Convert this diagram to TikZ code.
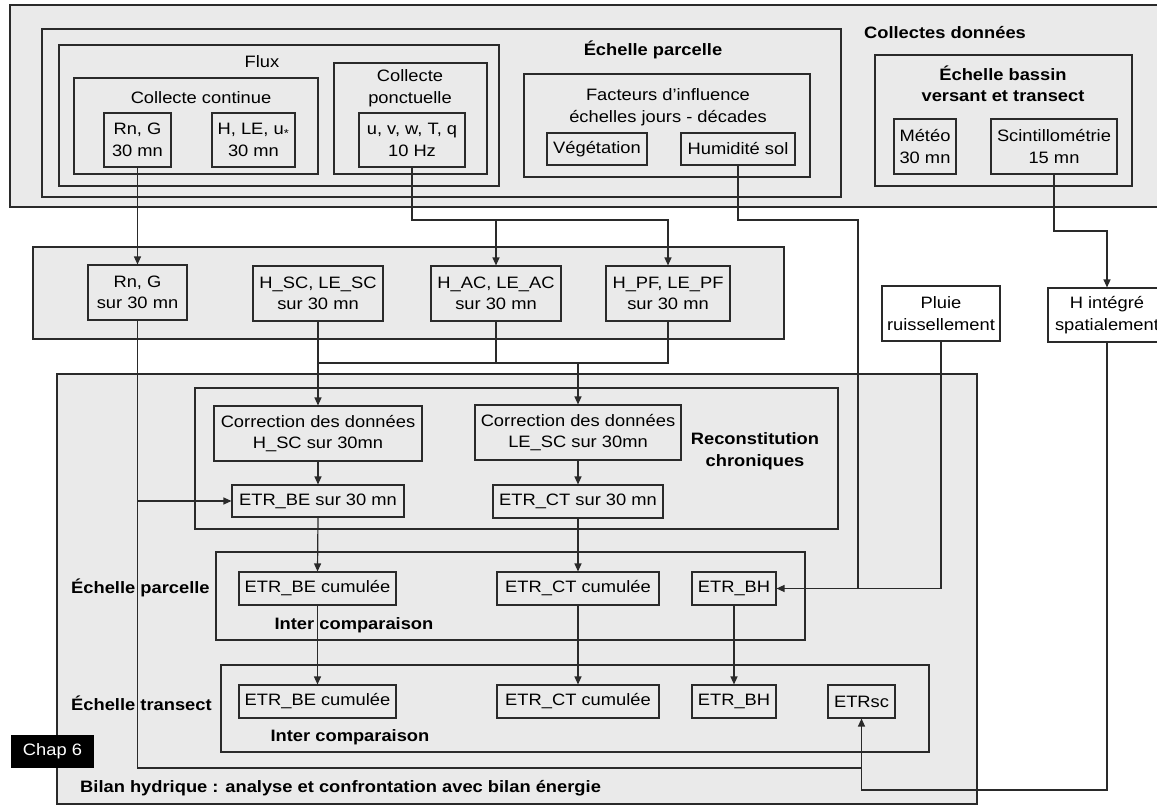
\documentclass[tikz,border=0pt]{standalone}
\usepackage{fontspec}
\setmainfont{Liberation Sans}[FakeStretch=1.11]
\usetikzlibrary{arrows.meta}
\definecolor{bg}{HTML}{EAEAEA}
\definecolor{ln}{HTML}{2A2A2A}
\newcommand\bx[7]{%
  \pgfmathsetmacro\bxcx{(#2+#4)/2}\pgfmathsetmacro\bxcy{(#3+#5)/2}%
  \pgfmathsetmacro\bxw{#4-#2}\pgfmathsetmacro\bxh{#5-#3}%
  \node[#6, minimum width=\bxw pt, minimum height=\bxh pt] (#1) at (\bxcx,\bxcy) {#7};}
\begin{document}
\begin{tikzpicture}[x=1pt,y=-1pt,
  font=\fontsize{16.5}{21.5}\selectfont,
  thinbox/.style={draw=ln,line width=1.1pt,inner sep=0pt,align=center},
  whitebox/.style={thinbox,fill=white},
  thickbox/.style={draw=ln,line width=2.6pt,inner sep=0pt},
  panel/.style={draw=ln,fill=bg,inner sep=0pt},
  lbl/.style={inner sep=0pt,align=center},
  blbl/.style={inner sep=0pt,align=center,font=\fontsize{16.5}{21.5}\selectfont\bfseries},
  conn/.style={draw=ln,line width=1.2pt},
  arr/.style={conn,-{Triangle[length=8pt,width=7pt]}}]
\clip (0,0) rectangle (1157,805);
% panels
\bx{top}{10}{5}{1180}{207}{panel,line width=2.8pt}{}
\bx{mid}{33}{247}{784}{339}{panel,line width=1.1pt}{}
\bx{big}{57}{374}{977}{804}{panel,line width=2pt}{}
% top area
\bx{parc}{42}{29}{841}{197}{thickbox}{}
\bx{flux}{59}{45}{499}{186}{thinbox}{}
\bx{cont}{74}{78}{318}{174}{thinbox}{}
\bx{ponc}{334}{63}{487}{174}{thinbox}{}
\bx{rng1}{104}{113}{171}{167}{thinbox}{Rn, G\\30 mn}
\bx{hle}{212}{113}{295}{167}{thinbox}{H, LE, u\textsubscript{*}\\30 mn}
\bx{uvw}{359}{113}{465}{167}{thinbox}{u, v, w, T, q\\10 Hz}
\node[lbl] (lflux) at (262,62) {Flux};
\node[lbl] (lcont) at (201,98) {Collecte continue};
\node[lbl] (lponc) at (410,88) {Collecte\\ponctuelle};
\node[blbl] (lparc) at (653,50) {Échelle parcelle};
\bx{fact}{524}{74}{810}{177}{thinbox}{}
\node[lbl] (lfact) at (668,107) {Facteurs d'influence\\échelles jours - décades};
\bx{veg}{547}{133}{647}{165}{thinbox}{Végétation}
\bx{hum}{681}{133}{795}{165}{thinbox}{Humidité sol}
\node[blbl] (lcoll) at (945,33) {Collectes données};
\bx{bass}{875}{55}{1132}{186}{thickbox}{}
\node[blbl] (lbass) at (1003,84) {Échelle bassin\\versant et transect};
\bx{meteo}{894}{119}{956}{174}{thinbox}{Météo\\30 mn}
\bx{scint}{991}{119}{1117}{174}{thinbox}{Scintillométrie\\15 mn}
% middle row
\bx{rng2}{88}{265}{187}{320}{thinbox}{Rn, G\\sur 30 mn}
\bx{hsc}{253}{266}{383}{321}{thinbox}{H\_SC, LE\_SC\\sur 30 mn}
\bx{hac}{431}{266}{561}{321}{thinbox}{H\_AC, LE\_AC\\sur 30 mn}
\bx{hpf}{606}{266}{730}{321}{thinbox}{H\_PF, LE\_PF\\sur 30 mn}
\bx{pluie}{882}{286}{1000}{341}{whitebox}{Pluie\\ruissellement}
\bx{hint}{1048}{288}{1166}{342}{whitebox}{H intégré\\spatialement}
% bottom area
\bx{reco}{195}{388}{838}{529}{thickbox}{}
\bx{corrH}{214}{406}{422}{461}{thinbox}{Correction des données\\H\_SC sur 30mn}
\bx{corrLE}{475}{405}{681}{460}{thinbox}{Correction des données\\LE\_SC sur 30mn}
\bx{etrbe}{232}{485}{404}{517}{thinbox}{ETR\_BE sur 30 mn}
\bx{etrct}{493}{485}{663}{518}{thinbox}{ETR\_CT sur 30 mn}
\node[blbl] (lreco) at (755,451) {Reconstitution\\chroniques};
\bx{parcb}{216}{552}{805}{640}{thickbox}{}
\bx{etrbec1}{239}{572}{396}{605}{thinbox}{ETR\_BE cumulée}
\bx{etrctc1}{497}{572}{659}{605}{thinbox}{ETR\_CT cumulée}
\bx{etrbh1}{692}{572}{776}{605}{thinbox}{ETR\_BH}
\node[blbl,anchor=west] (lparcb) at (71,588) {Échelle parcelle};
\node[blbl] (lint1) at (354,625) {Inter comparaison};
\bx{tran}{221}{665}{929}{752}{thickbox}{}
\bx{etrbec2}{239}{685}{396}{718}{thinbox}{ETR\_BE cumulée}
\bx{etrctc2}{497}{685}{659}{718}{thinbox}{ETR\_CT cumulée}
\bx{etrbh2}{692}{685}{776}{718}{thinbox}{ETR\_BH}
\bx{etrsc}{828}{685}{895}{718}{thinbox}{ETRsc}
\node[blbl,anchor=west] (ltran) at (71,703) {Échelle transect};
\node[blbl] (lint2) at (350,737) {Inter comparaison};
\bx{chap}{11}{735}{94}{768}{fill=black,text=white,inner sep=0pt}{Chap 6}
\node[blbl,anchor=west] (lbilan) at (80,788) {Bilan hydrique : analyse et confrontation avec bilan énergie};
% connectors
\coordinate (b1) at (412,220);
\coordinate (b2) at (858,220);
\coordinate (b3) at (858,588.5);
\coordinate (b4) at (1107,231);
\coordinate (b5) at (1107,790);
\coordinate (b6) at (137.5,768);
\coordinate (m1) at (318,363);
\draw[arr] (rng1.south) -- (rng2.north);
\draw[arr] (uvw.south) -- (b1) -| (hpf.north);
\draw[arr] (b1 -| hac.north) -- (hac.north);
\draw[arr] (hum.south) |- (b2) -- (b3) -- (etrbh1.east);
\draw[conn] (pluie.south) |- (b3);
\draw[arr] (scint.south) |- (b4) -- (hint.north);
\draw[arr] (hint.south) -- (b5) -| (etrsc.south);
\draw[conn] (rng2.south) -- (b6) -- (b6 -| etrsc.south);
\draw[arr] (rng2.south |- etrbe.west) -- (etrbe.west);
\draw[arr] (hsc.south) -- (corrH.north);
\draw[conn] (hpf.south) |- (m1);
\draw[conn] (hac.south) -- (hac.south |- m1);
\draw[arr] (m1 -| corrLE.north) -- (corrLE.north);
\draw[arr] (corrH.south) -- (etrbe.north);
\draw[arr] (corrLE.south) -- (etrct.north);
\draw[arr] (etrbe.south) -- (etrbec1.north);
\draw[arr] (etrct.south) -- (etrctc1.north);
\draw[arr] (etrbec1.south) -- (etrbec2.north);
\draw[arr] (etrctc1.south) -- (etrctc2.north);
\draw[arr] (etrbh1.south) -- (etrbh2.north);
\end{tikzpicture}
\end{document}
